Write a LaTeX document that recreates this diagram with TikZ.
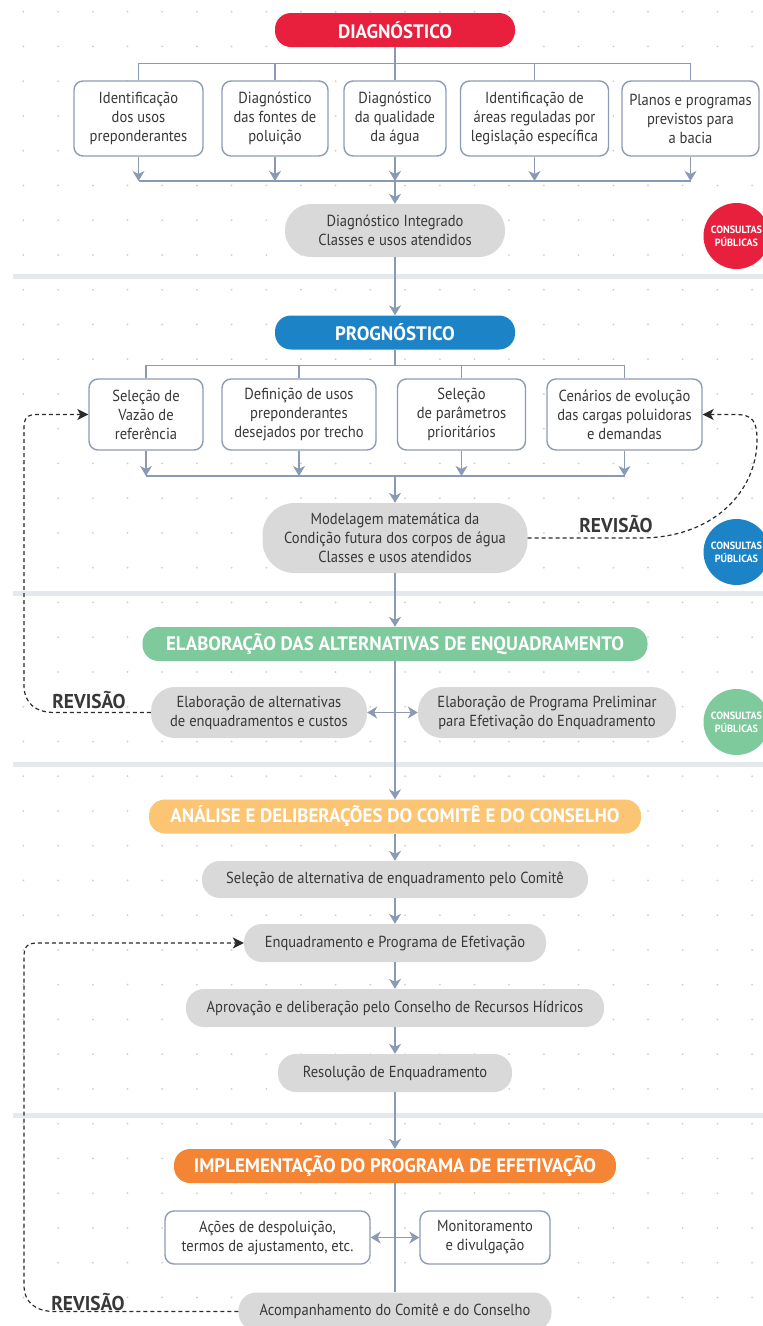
\documentclass[tikz,border=0pt]{standalone}
\usepackage{fontspec}
\setmainfont{PT Sans}[FakeStretch=0.91]
\newfontfamily\titlefont{PT Sans}[FakeStretch=0.97]
\usetikzlibrary{arrows.meta}
\definecolor{redC}{HTML}{E81F3D}
\definecolor{blueC}{HTML}{1C84C6}
\definecolor{greenC}{HTML}{7ECA9C}
\definecolor{lorangeC}{HTML}{FCC574}
\definecolor{orangeC}{HTML}{F48535}
\definecolor{pillC}{HTML}{D9D9D9}
\definecolor{lineC}{HTML}{8A9AB5}
\definecolor{boxC}{HTML}{8D9CB6}
\definecolor{bandC}{HTML}{E5E8ED}
\definecolor{dotC}{HTML}{C9CED6}
\definecolor{txtC}{HTML}{383838}
\definecolor{revC}{HTML}{2B2B2B}
\tikzset{
  conn/.style={draw=lineC, line width=1.3pt},
  arr/.style={conn, -{Stealth[length=10pt,width=12pt,inset=3pt]}},
  dbl/.style={conn, {Stealth[length=10pt,width=12pt,inset=3pt]}-{Stealth[length=10pt,width=12pt,inset=3pt]}},
  rev/.style={draw=revC, line width=1.2pt, dash pattern=on 4pt off 3pt, -{Stealth[length=11pt,width=11pt,inset=3pt]}},
  bodytext/.style={font=\fontsize{16}{19}\selectfont, text=txtC, align=center, inner sep=0pt},
  box/.style={bodytext, draw=boxC, line width=1.4pt, fill=white, rounded corners=9pt},
  pill/.style={bodytext, fill=pillC},
  title/.style={font=\titlefont\fontsize{19.5}{22}\selectfont\bfseries, text=white, inner sep=0pt, minimum height=34pt, rounded corners=16pt},
  revlbl/.style={font=\titlefont\fontsize{20}{22}\selectfont\bfseries, text=txtC, inner sep=0pt},
  consult/.style={circle, minimum size=66pt, inner sep=0pt, text=white, align=center, font=\titlefont\fontsize{10.5}{13}\selectfont\bfseries},
  band/.style={draw=bandC, line width=5pt}
}
\begin{document}
\begin{tikzpicture}[x=1pt,y=-1pt]
\useasboundingbox (0,0) rectangle (763,1326);
\clip (0,0) rectangle (763,1326);
\fill[white] (0,0) rectangle (763,1326);
% dot grid
\foreach \i in {0,...,21}{\foreach \j in {0,...,37}{\fill[dotC] (23.4+\i*34.7, 11.7+\j*34.75) circle (1);}}
% section bands
\foreach \yy in {276,593,764,1115}{\draw[band] (13,\yy) -- (763,\yy);}

% ---- DIAGNOSTICO ----
\node[title, fill=redC, minimum width=240pt] (diag) at (395,30) {DIAGNÓSTICO};
\node[box, minimum width=129pt, minimum height=75pt] (b11) at (138.5,118.5) {Identificação\\dos usos\\preponderantes};
\node[box, minimum width=106pt, minimum height=75pt] (b12) at (275,118.5) {Diagnóstico\\das fontes de\\poluição};
\node[box, minimum width=102pt, minimum height=75pt] (b13) at (395,118.5) {Diagnóstico\\da qualidade\\da água};
\node[box, minimum width=148pt, minimum height=75pt] (b14) at (534.5,118.5) {Identificação de\\áreas reguladas por\\legislação específica};
\node[box, minimum width=137pt, minimum height=75pt] (b15) at (690.5,118.5) {Planos e programas\\previstos para\\a bacia};
\node[pill, minimum width=220pt, minimum height=53pt, rounded corners=26pt] (integ) at (395,230.5) {Diagnóstico Integrado\\Classes e usos atendidos};
\node[consult, fill=redC] (cp1) at (736.5,236) {CONSULTAS\\PÚBLICAS};

\draw[conn] (diag.south) -- (b13.north);
\draw[conn] (b11.north) -- ++(0,-17) -| (b15.north);
\draw[conn] (b12.north) -- ++(0,-17);
\draw[conn] (b14.north) -- ++(0,-17);
\coordinate (m1) at (395,181);
\draw[conn] (b11.south |- m1) -- (b15.south |- m1);
\foreach \b in {b11,b12,b13,b14,b15}{\draw[arr] (\b.south) -- (\b.south |- m1);}
\draw[arr] (m1) -- (integ.north);

% ---- PROGNOSTICO ----
\node[title, fill=blueC, minimum width=240pt] (prog) at (395,332.5) {PROGNÓSTICO};
\node[box, minimum width=114pt, minimum height=71pt] (b21) at (146,414.5) {Seleção de\\Vazão de\\referência};
\node[box, minimum width=154pt, minimum height=71pt] (b22) at (299,414.5) {Definição de usos\\preponderantes\\desejados por trecho};
\node[box, minimum width=128pt, minimum height=71pt] (b23) at (461.5,414.5) {Seleção\\de parâmetros\\prioritários};
\node[box, minimum width=155pt, minimum height=71pt] (b24) at (624.5,414.5) {Cenários de evolução\\das cargas poluidoras\\e demandas};
\node[pill, minimum width=265pt, minimum height=70pt, rounded corners=32pt] (model) at (395,538) {Modelagem matemática da\\Condição futura dos corpos de água\\Classes e usos atendidos};
\node[consult, fill=blueC] (cp2) at (736.5,552) {CONSULTAS\\PÚBLICAS};

\draw[arr] (integ.south) -- (prog.north);
\coordinate (s2) at (395,366);
\draw[conn] (prog.south) -- (s2);
\draw[conn] (b21.north) -- ++(0,-13) -| (b24.north);
\draw[conn] (b22.north) -- ++(0,-13);
\draw[conn] (b23.north) -- ++(0,-13);
\coordinate (m2) at (395,476);
\draw[conn] (b21.south |- m2) -- (b24.south |- m2);
\foreach \b in {b21,b22,b23,b24}{\draw[arr] (\b.south) -- (\b.south |- m2);}
\draw[arr] (m2) -- (model.north);

\node[revlbl] (rv1) at (616,524) {REVISÃO};
\draw[rev] (model.east) -- (640,538) .. controls (715,538) and (757,490) .. (757,440) .. controls (757,420) and (752,414.5) .. (735,414.5) -- (b24.east);

% ---- ELABORACAO ----
\node[title, fill=greenC, minimum width=505pt] (elab) at (395,644) {ELABORAÇÃO DAS ALTERNATIVAS DE ENQUADRAMENTO};
\node[pill, minimum width=216pt, minimum height=51pt, rounded corners=24pt] (elabA) at (259,712.5) {Elaboração de alternativas\\de enquadramentos e custos};
\node[pill, minimum width=258pt, minimum height=51pt, rounded corners=24pt] (elabB) at (547,712.5) {Elaboração de Programa Preliminar\\para Efetivação do Enquadramento};
\node[consult, fill=greenC] (cp3) at (736.5,722) {CONSULTAS\\PÚBLICAS};

\draw[arr] (model.south) -- (elab.north);
\draw[dbl] (elabA.east) -- (elabB.west);
\node[revlbl] (rv2) at (89,700) {REVISÃO};
\draw[rev] (elabA.west) -- (55,712.5) .. controls (35,712.5) and (24,703) .. (24,685) -- (24,428) .. controls (24,418) and (27,414.5) .. (37,414.5) -- (b21.west);

% ---- ANALISE ----
\node[title, fill=lorangeC, minimum width=492pt] (anal) at (395,816.5) {ANÁLISE E DELIBERAÇÕES DO COMITÊ E DO CONSELHO};
\node[pill, minimum width=386pt, minimum height=37pt, rounded corners=18pt] (sel) at (395,879.5) {Seleção de alternativa de enquadramento pelo Comitê};
\node[pill, minimum width=302pt, minimum height=38pt, rounded corners=18pt] (enq) at (395,943) {Enquadramento e Programa de Efetivação};
\node[pill, minimum width=418pt, minimum height=38pt, rounded corners=18pt] (apr) at (395,1008) {Aprovação e deliberação pelo Conselho de Recursos Hídricos};
\node[pill, minimum width=234pt, minimum height=38pt, rounded corners=18pt] (res) at (395,1073) {Resolução de Enquadramento};

\draw[arr] (elab.south) -- (anal.north);
\draw[arr] (anal.south) -- (sel.north);
\draw[arr] (sel.south) -- (enq.north);
\draw[arr] (enq.south) -- (apr.north);
\draw[arr] (apr.south) -- (res.north);

% ---- IMPLEMENTACAO ----
\node[title, fill=orangeC, minimum width=442pt] (impl) at (395,1166) {IMPLEMENTAÇÃO DO PROGRAMA DE EFETIVAÇÃO};
\node[box, minimum width=205pt, minimum height=53pt] (acoes) at (267.5,1237.5) {Ações de despoluição,\\termos de ajustamento, etc.};
\node[box, minimum width=130pt, minimum height=53pt] (monit) at (485,1237.5) {Monitoramento\\e divulgação};
\node[pill, minimum width=313pt, minimum height=38pt, rounded corners=18pt] (acomp) at (395,1311.5) {Acompanhamento do Comitê e do Conselho};

\draw[arr] (res.south) -- (impl.north);
\draw[conn] (impl.south) -- (acomp.north);
\draw[dbl] (acoes.east) -- (monit.west);
\node[revlbl] (rv3) at (88,1302) {REVISÃO};
\draw[rev] (acomp.west) -- (55,1311.5) .. controls (35,1311.5) and (24,1302) .. (24,1285) -- (24,957) .. controls (24,947) and (27,943) .. (37,943) -- (enq.west);
\end{tikzpicture}
\end{document}
